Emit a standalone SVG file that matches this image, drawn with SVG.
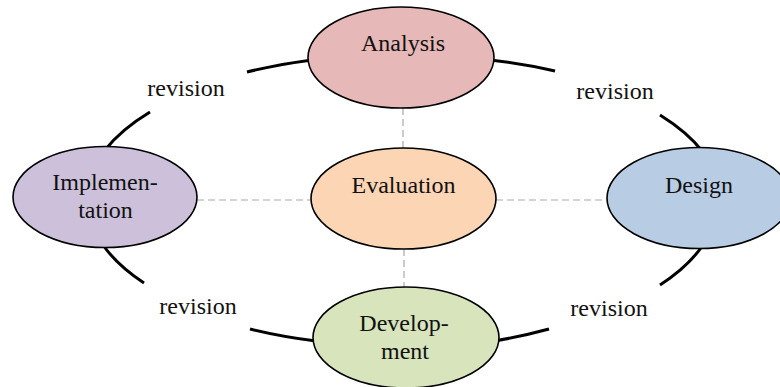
<svg xmlns="http://www.w3.org/2000/svg" width="780" height="387" viewBox="0 0 780 387">
<style>
.node{stroke:#000;stroke-width:1.6}
.lbl{font-family:"Liberation Serif","Times New Roman",serif;font-size:24px;fill:#111;text-anchor:middle}
.arc{fill:none;stroke:#000;stroke-width:3;stroke-linecap:butt}
.dash{fill:none;stroke:#aaa;stroke-width:1.2;stroke-dasharray:7 4}
</style>
<rect width="780" height="387" fill="#fff"/>
<g id="connectors">
<path class="dash" d="M403 108 V148 M404 249 V287 M197 200 H311 M496 200 H607"/>
<path class="arc" d="M105 150 A317 144 0 0 1 150 112"/>
<path class="arc" d="M247 72 A317 144 0 0 1 312 60"/>
<path class="arc" d="M490 60 A317 144 0 0 1 555 71"/>
<path class="arc" d="M660 115 A317 144 0 0 1 703 152"/>
<path class="arc" d="M703 245 A317 144 0 0 1 660 285"/>
<path class="arc" d="M549 329 A317 144 0 0 1 494 341"/>
<path class="arc" d="M316 341 A317 144 0 0 1 250 329"/>
<path class="arc" d="M144 283 A317 144 0 0 1 103 245"/>
</g>
<g id="label-tl"><text class="lbl" x="186" y="96">revision</text></g>
<g id="label-tr"><text class="lbl" x="615" y="99">revision</text></g>
<g id="label-bl"><text class="lbl" x="198" y="314">revision</text></g>
<g id="label-br"><text class="lbl" x="609" y="316">revision</text></g>
<g id="analysis">
<ellipse class="node" cx="401" cy="57.5" rx="93" ry="50.5" fill="#E6B8B7"/>
<text class="lbl" x="403" y="51">Analysis</text>
</g>
<g id="evaluation">
<ellipse class="node" cx="403.5" cy="198.5" rx="92.5" ry="50.5" fill="#FCD5B4"/>
<text class="lbl" x="403.5" y="193">Evaluation</text>
</g>
<g id="implementation">
<ellipse class="node" cx="105" cy="197" rx="92" ry="50.5" fill="#CCC0DA"/>
<text class="lbl" x="105" y="190">Implemen-</text>
<text class="lbl" x="105.5" y="218">tation</text>
</g>
<g id="design">
<ellipse class="node" cx="699" cy="198" rx="92" ry="50.5" fill="#B8CCE4"/>
<text class="lbl" x="699" y="193">Design</text>
</g>
<g id="development">
<ellipse class="node" cx="406" cy="337.5" rx="93" ry="50.5" fill="#D7E4BC"/>
<text class="lbl" x="404" y="331">Develop-</text>
<text class="lbl" x="405" y="359">ment</text>
</g>
</svg>
